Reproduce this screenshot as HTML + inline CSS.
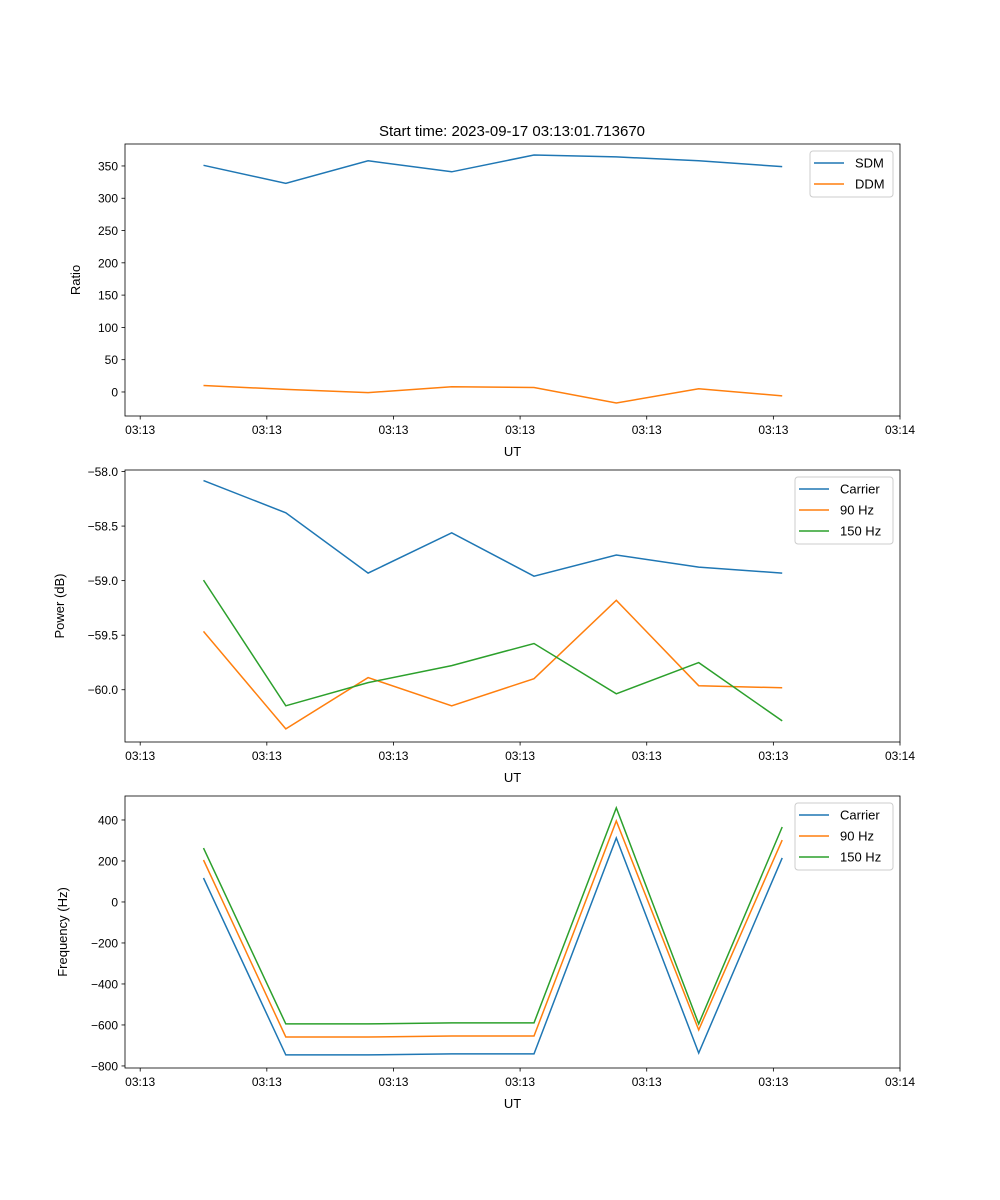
<!DOCTYPE html>
<html><head><meta charset="utf-8"><style>body{margin:0;background:#fff}svg{display:block;font-family:"Liberation Sans","DejaVu Sans",sans-serif}</style></head>
<body>
<svg id="fig" width="1000" height="1200" viewBox="0 0 1000 1200" xmlns="http://www.w3.org/2000/svg">
<rect width="1000" height="1200" fill="#fff"/>
<text x="512" y="136" font-size="15" text-anchor="middle">Start time: 2023-09-17 03:13:01.713670</text>
</svg>
<script>
const times = [5.0, 11.5, 18.0, 24.6, 31.1, 37.6, 44.1, 50.7];
const xTickVals = [0, 10, 20, 30, 40, 50, 60];
const xTickLabels = ["03:13","03:13","03:13","03:13","03:13","03:13","03:14"];
const sdm = [351, 323, 358, 341, 367, 364, 358, 349];
const ddm = [10, 4, -1, 8, 7, -17, 5, -6];
const powCarrier = [-58.083, -58.378, -58.931, -58.562, -58.959, -58.765, -58.876, -58.931];
const pow90 = [-59.465, -60.359, -59.889, -60.147, -59.899, -59.180, -59.963, -59.982];
const pow150 = [-58.995, -60.147, -59.935, -59.779, -59.576, -60.037, -59.751, -60.286];
const freqCarrier = [117, -746, -746, -741, -741, 312, -737, 215];
const freq90 = [205, -659, -659, -654, -654, 395, -624, 302];
const freq150 = [263, -595, -595, -590, -590, 459, -595, 366];
const ratioTicks = [0, 50, 100, 150, 200, 250, 300, 350];
const powTicks = [-60.0, -59.5, -59.0, -58.5, -58.0];
const powTickLabels = ["\u221260.0","\u221259.5","\u221259.0","\u221258.5","\u221258.0"];
const freqTicks = [-800, -600, -400, -200, 0, 200, 400];

const NS = "http://www.w3.org/2000/svg";
const svg = document.getElementById('fig');
function el(tag, attrs, parent) {
  const e = document.createElementNS(NS, tag);
  for (const k in attrs) e.setAttribute(k, attrs[k]);
  (parent || svg).appendChild(e);
  return e;
}
const L = 125, R = 900, X0 = -1.2, X1 = 60;
const xs = t => L + (t - X0) / (X1 - X0) * (R - L);
const C = ["#1f77b4", "#ff7f0e", "#2ca02c"];

function panel(name, top, bot, y0, y1, yTicks, yLabels, ylabel, series, names, leg) {
  const ys = v => bot - (v - y0) / (y1 - y0) * (bot - top);
  const g = el('g', {});
  
  
  series.forEach((s, i) => {
    const p = el('polyline', {points: s.map((v, j) => xs(times[j]).toFixed(1) + ',' + ys(v).toFixed(1)).join(' '), fill: 'none', stroke: C[i], 'stroke-width': 1.5}, g);
    
    
  });
  const fr = el('rect', {x: L, y: top, width: R - L, height: bot - top, fill: 'none', stroke: '#000', 'stroke-width': 0.8}, g);
  
  
  xTickVals.forEach((t, i) => {
    const x = xs(t);
    el('line', {x1: x, x2: x, y1: bot, y2: bot + 3.5, stroke: '#000', 'stroke-width': 0.8}, g);
    const tx = el('text', {x: x, y: bot + 18, 'font-size': 12, 'text-anchor': 'middle'}, g);
    tx.textContent = xTickLabels[i];
    
    
  });
  const xl = el('text', {x: (L + R) / 2, y: bot + 40, 'font-size': 13, 'text-anchor': 'middle'}, g);
  xl.textContent = 'UT';
  
  
  yTicks.forEach((v, i) => {
    const y = ys(v);
    el('line', {x1: L - 3.5, x2: L, y1: y, y2: y, stroke: '#000', 'stroke-width': 0.8}, g);
    const tx = el('text', {x: L - 7, y: y + 4.5, 'font-size': 12, 'text-anchor': 'end'}, g);
    tx.textContent = yLabels[i];
    
    
  });
  const yl = el('text', {x: 0, y: 0, 'font-size': 13, 'text-anchor': 'middle', transform: `translate(${leg.yl},${(top + bot) / 2}) rotate(-90)`}, g);
  yl.textContent = ylabel;
  
  
  const lg = el('g', {}, g);
  
  
  const h = 4 + names.length * 21;
  el('rect', {x: leg.x, y: top + 7, width: 893 - leg.x, height: h, rx: 3, fill: '#fff', 'fill-opacity': 0.8, stroke: '#ccc'}, lg);
  names.forEach((n, i) => {
    const y = top + 7 + 12 + i * 21;
    el('line', {x1: leg.x + 4, x2: leg.x + 34, y1: y, y2: y, stroke: C[i], 'stroke-width': 1.5}, lg);
    const t = el('text', {x: leg.x + 45, y: y + 4.5, 'font-size': 13}, lg);
    t.textContent = n;
    
    
  });
}
panel('ratio', 144, 416, -37.2, 384, ratioTicks, ratioTicks.map(String), 'Ratio', [sdm, ddm], ['SDM', 'DDM'], {x: 810, yl: 80});
panel('power', 470, 742, -60.479, -57.986, powTicks, powTickLabels, 'Power (dB)', [powCarrier, pow90, pow150], ['Carrier', '90 Hz', '150 Hz'], {x: 795, yl: 64});
panel('frequency', 796, 1068, -810, 517, freqTicks, freqTicks.map(v => v < 0 ? '\u2212' + (-v) : String(v)), 'Frequency (Hz)', [freqCarrier, freq90, freq150], ['Carrier', '90 Hz', '150 Hz'], {x: 795, yl: 67});
</script>
</body></html>
